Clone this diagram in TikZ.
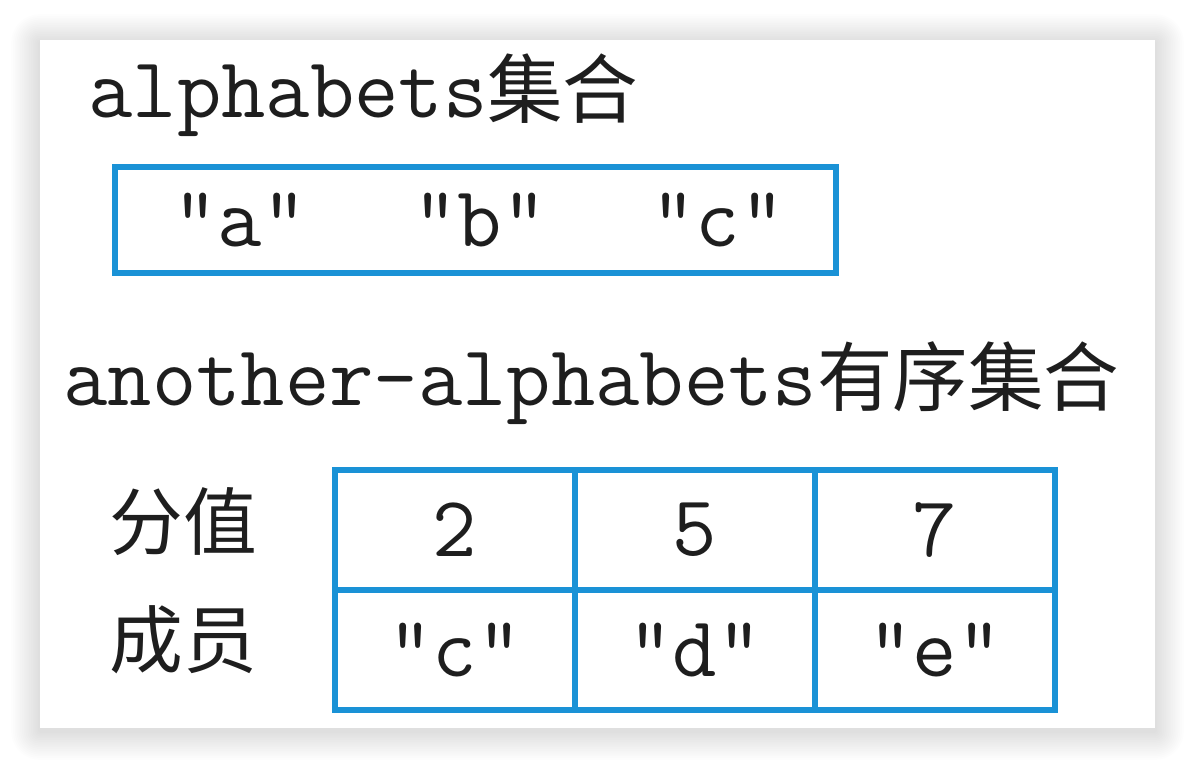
\documentclass[tikz,border=0pt]{standalone}
\usepackage{fontspec}
\newfontfamily\cjk{Noto Sans CJK SC}
\usepackage{xcolor}
\usetikzlibrary{positioning}

\definecolor{cellblue}{RGB}{26,146,214}
\definecolor{inkgray}{RGB}{30,30,30}

\tikzset{
    bigtext/.style={font=\fontsize{49}{56}\selectfont\ttfamily, text=inkgray, inner sep=0pt},
    cjktext/.style={font=\fontsize{42}{50}\selectfont\cjk, text=inkgray, inner sep=0pt},
    cell/.style={draw=cellblue, line width=3.6pt, minimum width=4.8cm, minimum height=2.4cm,
                 inner sep=0pt, outer sep=0pt, font=\fontsize{49}{56}\selectfont\ttfamily, text=inkgray},
}

\begin{document}
\begin{tikzpicture}[x=0.02cm, y=-0.02cm]
    % Background and card with soft shadow
    \fill[white] (0,0) rectangle (1194,768);
    \useasboundingbox (0,0) rectangle (1194,768);
    \foreach \i in {1,...,16}
        \fill[black, opacity=0.006, rounded corners=\i pt] (40-1.8*\i,40-1.8*\i+3) rectangle (1155+1.8*\i,728+1.8*\i+3);
    \fill[white] (40,40) rectangle (1155,728);

    % Set title
    \node[bigtext, anchor=base west] (settitle) at (88,117) {alphabets{\cjk\fontsize{43}{50}\selectfont 集合}};

    % Set box
    \node[draw=cellblue, line width=3.6pt, minimum width=14.42cm, minimum height=2.12cm, inner sep=0pt]
        (setbox) at (475.5,220) {};
    \node[bigtext] (ma) at (240,220) {"a"};
    \node[bigtext] (mb) at (480,220) {"b"};
    \node[bigtext] (mc) at (718,220) {"c"};

    % Sorted set title
    \node[bigtext, anchor=base west] (zsettitle) at (63,405) {another-alphabets{\cjk\fontsize{43}{50}\selectfont 有序集合}};

    % Row labels
    \node[cjktext] (scorelabel) at (183,522) {分值};
    \node[cjktext] (memberlabel) at (183,640) {成员};

    % Table cells
    \node[cell] (s1) at (455,530) {2};
    \node[cell] (s2) at (695,530) {5};
    \node[cell] (s3) at (935,530) {7};
    \node[cell] (m1) at (455,650) {"c"};
    \node[cell] (m2) at (695,650) {"d"};
    \node[cell] (m3) at (935,650) {"e"};
\end{tikzpicture}
\end{document}
